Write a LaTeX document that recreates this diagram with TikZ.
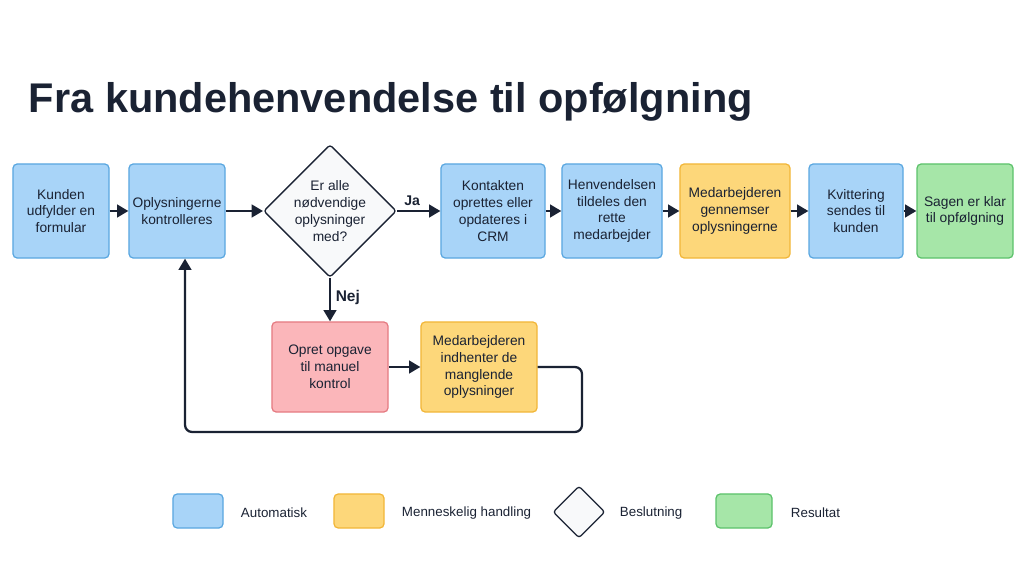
\documentclass[tikz,border=0pt]{standalone}
\usepackage{fontspec}
\setmainfont{Liberation Sans}
\usetikzlibrary{shapes.geometric,arrows.meta}
\definecolor{autofill}{HTML}{A8D4F8}\definecolor{autoline}{HTML}{5AA7E0}
\definecolor{humfill}{HTML}{FDD77A}\definecolor{humline}{HTML}{F2B638}
\definecolor{errfill}{HTML}{FBB6BA}\definecolor{errline}{HTML}{E57B82}
\definecolor{resfill}{HTML}{A6E6A8}\definecolor{resline}{HTML}{5CC26B}
\definecolor{decfill}{HTML}{F8F9FA}\definecolor{ink}{HTML}{1A2233}
\tikzset{
  step/.style={rectangle, rounded corners=3pt, line width=0.9pt, minimum width=#1, minimum height=2.35cm,
    align=center, font=\fontsize{9.8}{12}\selectfont, text=ink, inner sep=1pt},
  step/.default=2.4cm,
  auto/.style={step, fill=autofill, draw=autoline},
  human/.style={step, fill=humfill, draw=humline},
  manual/.style={step, fill=errfill, draw=errline},
  result/.style={step, fill=resfill, draw=resline},
  decide/.style={diamond, aspect=1, fill=decfill, draw=ink, line width=0.9pt, minimum size=3.2cm,
    align=center, inner sep=0pt, font=\fontsize{9.8}{12}\selectfont, text=ink, rounded corners=2pt},
  flow/.style={-{Triangle[length=8pt,width=9pt]}, line width=1.6pt, draw=ink},
  legtext/.style={font=\fontsize{9.5}{11}\selectfont, text=ink, anchor=west}
}
\begin{document}
\begin{tikzpicture}[x=0.025cm, y=-0.025cm]
\useasboundingbox (0,0) rectangle (1024,576);
% title
\node[anchor=west, font=\fontsize{29.5}{34}\selectfont\bfseries, text=ink] (title) at (24,102) {Fra kundehenvendelse til opfølgning};

% main row
\node[auto] (form) at (61,211) {Kunden\\udfylder en\\formular};
\node[auto] (check) at (177,211) {Oplysningerne\\kontrolleres};
\node[decide] (complete) at (330,211) {Er alle\\nødvendige\\oplysninger\\med?};
\node[auto, minimum width=2.6cm] (crm) at (493,211) {Kontakten\\oprettes eller\\opdateres i\\CRM};
\node[auto, minimum width=2.5cm] (assign) at (612,211) {Henvendelsen\\tildeles den\\rette\\medarbejder};
\node[human, minimum width=2.75cm] (review) at (735,211) {Medarbejderen\\gennemser\\oplysningerne};
\node[auto, minimum width=2.35cm] (receipt) at (856,211) {Kvittering\\sendes til\\kunden};
\node[result, minimum width=2.4cm] (ready) at (965,211) {Sagen er klar\\til opfølgning};

% lower row
\node[manual, minimum width=2.9cm, minimum height=2.25cm] (task) at (330,367) {Opret opgave\\til manuel\\kontrol};
\node[human, minimum width=2.9cm, minimum height=2.25cm] (fetch) at (479,367) {Medarbejderen\\indhenter de\\manglende\\oplysninger};

% connectors
\draw[flow] (form) -- (check);
\draw[flow] (check) -- (complete);
\draw[flow] (complete) -- node[above, pos=0.35, font=\fontsize{10}{12}\selectfont\bfseries, text=ink] {Ja} (crm);
\draw[flow] (crm) -- (assign);
\draw[flow] (assign) -- (review);
\draw[flow] (review) -- (receipt);
\draw[flow] (receipt) -- (ready);
\draw[flow] (complete) -- node[right, pos=0.45, font=\fontsize{11}{13}\selectfont\bfseries, text=ink] {Nej} (task);
\draw[flow] (task) -- (fetch);
\draw[flow, rounded corners=5pt] (fetch.east) -- (582,367) -- (582,432) -- (185,432) -- (check.south -| 185,0);

% legend
\node[auto, minimum width=1.25cm, minimum height=0.85cm] (lauto) at (198,511) {};
\node[legtext] at (236,513) {Automatisk};
\node[human, minimum width=1.25cm, minimum height=0.85cm] (lhuman) at (359,511) {};
\node[legtext] at (397,513) {Menneskelig handling};
\node[decide, minimum size=1.3cm] (ldec) at (579,512) {};
\node[legtext] at (615,513) {Beslutning};
\node[result, minimum width=1.4cm, minimum height=0.85cm] (lres) at (744,511) {};
\node[legtext] at (786,513) {Resultat};
\end{tikzpicture}
\end{document}
